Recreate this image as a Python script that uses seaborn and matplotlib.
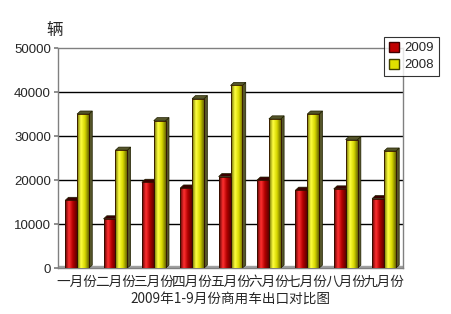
import numpy as np
import pandas as pd
import matplotlib
matplotlib.use("Agg")
import matplotlib.pyplot as plt
import seaborn as sns
from matplotlib.colors import LinearSegmentedColormap
from matplotlib.patches import Patch

months = ["一月份", "二月份", "三月份", "四月份", "五月份", "六月份", "七月份", "八月份", "九月份"]
vals_2009 = [15400, 11200, 19500, 18200, 20800, 20000, 17700, 18000, 15800]
vals_2008 = [35000, 26800, 33500, 38500, 41500, 33900, 35000, 29200, 26600]
series = ["2009", "2008"]
yticks = [0, 10000, 20000, 30000, 40000, 50000]
title = "2009年1-9月份商用车出口对比图"
unit = "辆"

df = pd.DataFrame({
    "month": months * 2,
    "value": vals_2009 + vals_2008,
    "year": ["2009"] * len(months) + ["2008"] * len(months),
})

sns.set_theme(style="white")
plt.rcParams["font.family"] = ["Noto Sans CJK SC", "DejaVu Sans"]

fig = plt.figure(figsize=(4.52, 3.14), dpi=100)
ax = fig.add_axes([0.128, 0.146, 0.764, 0.701])

palette = {"2009": "#c00000", "2008": "#e0e000"}
sns.barplot(data=df, x="month", y="value", hue="year", hue_order=series,
            palette=palette, width=0.62, ax=ax, legend=False,
            saturation=1, edgecolor="none", zorder=3)

ax.set_xlim(-0.5, len(months) - 0.5)
ax.set_ylim(0, 50000)

# gradient / 3D-ish shading on bars
cmaps = {
    "2009": LinearSegmentedColormap.from_list("r", ["#5a0000", "#ff3030", "#b00000", "#600000"]),
    "2008": LinearSegmentedColormap.from_list("y", ["#6a6a00", "#ffff40", "#d8d800", "#6a6a00"]),
}
side_col = {"2009": "#3a0000", "2008": "#55552a"}
grad = np.linspace(0, 1, 64).reshape(1, -1)
patches = list(ax.patches)
n = len(months)
for i, p in enumerate(patches):
    yr = series[i // n]
    x0, w, h = p.get_x(), p.get_width(), p.get_height()
    dx = w * 0.28
    dy = 700
    side = plt.Polygon([[x0 + w, 0], [x0 + w + dx, dy], [x0 + w + dx, h + dy], [x0 + w, h]],
                       closed=True, facecolor=side_col[yr], edgecolor="#202000", lw=0.5, zorder=2)
    ax.add_patch(side)
    top = plt.Polygon([[x0, h], [x0 + dx, h + dy], [x0 + w + dx, h + dy], [x0 + w, h]],
                      closed=True, facecolor=side_col[yr], edgecolor="#202000", lw=0.5, zorder=2)
    ax.add_patch(top)
    im = ax.imshow(grad, extent=[x0, x0 + w, 0, h], aspect="auto",
                   cmap=cmaps[yr], zorder=4)
    im.set_clip_path(p)
    p.set_edgecolor("#301000")
    p.set_linewidth(0.6)
    p.set_zorder(5)
    p.set_facecolor("none")

ax.set_xlim(-0.5, len(months) - 0.5)
ax.set_ylim(0, 50000)

for yv in yticks[1:-1]:
    ax.axhline(yv, color="black", lw=1.0, zorder=1)
ax.axhspan(0, 500, color="#a0a0a0", zorder=1)

ax.set_yticks(yticks)
ax.set_yticklabels([str(v) for v in yticks], fontsize=9.5, family=["Liberation Sans", "DejaVu Sans"])
ax.set_xticks(range(len(months)))
ax.set_xticklabels(months, fontsize=9.8)
ax.tick_params(axis="x", length=0, pad=5)
ax.tick_params(axis="y", length=3, pad=2, left=True, color="gray")
ax.set_xlabel(title, fontsize=9.8, labelpad=2)
ax.set_ylabel("")

for s in ["top", "right", "left", "bottom"]:
    ax.spines[s].set_color("#808080")
    ax.spines[s].set_linewidth(1.0)

fig.text(55 / 452, 1 - 30 / 314, unit, fontsize=12, ha="center", va="center")

handles = [Patch(facecolor="#c00000", edgecolor="#400000", label="2009"),
           Patch(facecolor="#e0e000", edgecolor="#404000", label="2008")]
leg = fig.legend(handles=handles, loc="upper left", bbox_to_anchor=(384 / 452, 1 - 37 / 314),
                 frameon=True, fancybox=False, handlelength=0.8, handleheight=0.8,
                 handletextpad=0.4, borderpad=0.35, labelspacing=0.35, borderaxespad=0,
                 prop={"family": ["Liberation Sans", "DejaVu Sans"], "size": 9.5})
leg.get_frame().set_edgecolor("black")
leg.get_frame().set_linewidth(0.8)

fig.savefig("out.png", dpi=100, facecolor="white")
